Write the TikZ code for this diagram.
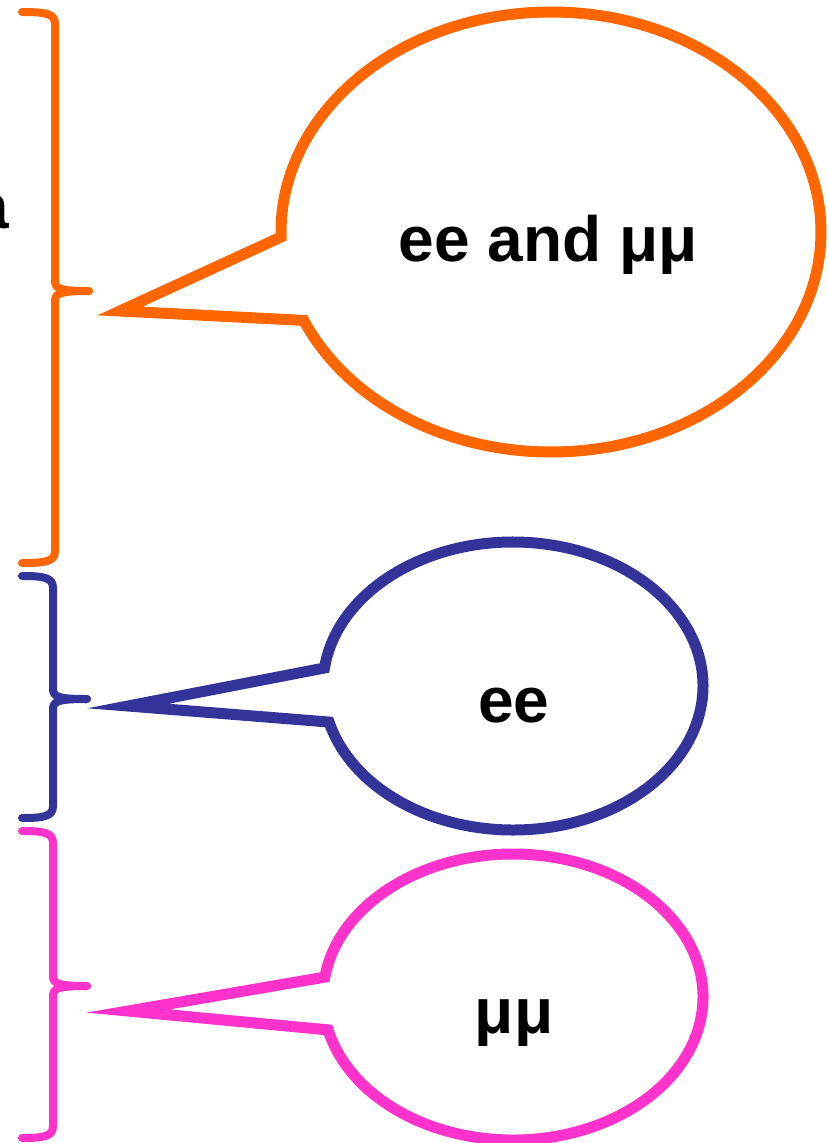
\documentclass[tikz,border=0pt]{standalone}
\usepackage{fontspec}
\setmainfont{Liberation Sans}
\usetikzlibrary{calc}
\definecolor{corange}{HTML}{FF6600}
\definecolor{cblue}{HTML}{333399}
\definecolor{cpink}{HTML}{FF33CC}
\newcommand\bracedraw[5]{%
  % #1 colour, #2 x of stem, #3 top, #4 middle, #5 bottom
  \draw[bracepath,draw=#1] (22,#3) .. controls ({#2-8},#3) and (#2,{#3+2}) .. (#2,{#3+12})
     -- (#2,{#4-10}) .. controls (#2,{#4-2}) and ({#2+6},#4) .. ({#2+34},#4);
  \draw[bracepath,draw=#1] ({#2+34},#4) .. controls ({#2+6},#4) and (#2,{#4+2}) .. (#2,{#4+10})
     -- (#2,{#5-12}) .. controls (#2,{#5-2}) and ({#2-8},#5) .. (22,#5);
}
\begin{document}
\begin{tikzpicture}[x=1pt,y=-1pt,
  callout/.style={draw=#1, line width=11pt, fill=white, line join=miter, miter limit=30},
  bracepath/.style={line width=8pt, line cap=round, line join=round},
  lbl/.style={font=\fontsize{64}{70}\selectfont\bfseries, inner sep=0pt, anchor=base, text=black}]
\useasboundingbox (0,0) rectangle (829,1143);
\clip (0,0) rectangle (829,1143);

% braces
\bracedraw{corange}{55}{12}{291}{563}
\bracedraw{cblue}{53}{576}{699}{818}
\bracedraw{cpink}{53}{831}{986}{1138}

% orange callout
\coordinate (oc) at (551,232);
\coordinate (oT) at (120,311);
\draw[callout=corange] ($(oc)+(181.3:270pt and 220pt)$) coordinate (oU)
  arc[start angle=181.3, end angle=-156.3, x radius=270pt, y radius=220pt] coordinate (oL)
  -- (oT) -- cycle;

% blue callout
\coordinate (bc) at (513,686);
\coordinate (bT) at (128,706);
\draw[callout=cblue] ($(bc)+(172.8:190pt and 144pt)$) coordinate (bU)
  arc[start angle=172.8, end angle=-165.5, x radius=190pt, y radius=144pt] coordinate (bL)
  -- (bT) -- cycle;

% pink callout
\coordinate (pc) at (513,997);
\coordinate (pT) at (128,1011);
\draw[callout=cpink] ($(pc)+(172:190pt and 143pt)$) coordinate (pU)
  arc[start angle=172, end angle=-166.7, x radius=190pt, y radius=143pt] coordinate (pL)
  -- (pT) -- cycle;

% texts
\node[lbl] (t1) at (548,261) {ee and μμ};
\node[lbl] (t2) at (514,722) {ee};
\node[lbl] (t3) at (514,1033) {μμ};
\node[lbl, anchor=base east] (cut) at (9,228) {a};
\end{tikzpicture}
\end{document}
